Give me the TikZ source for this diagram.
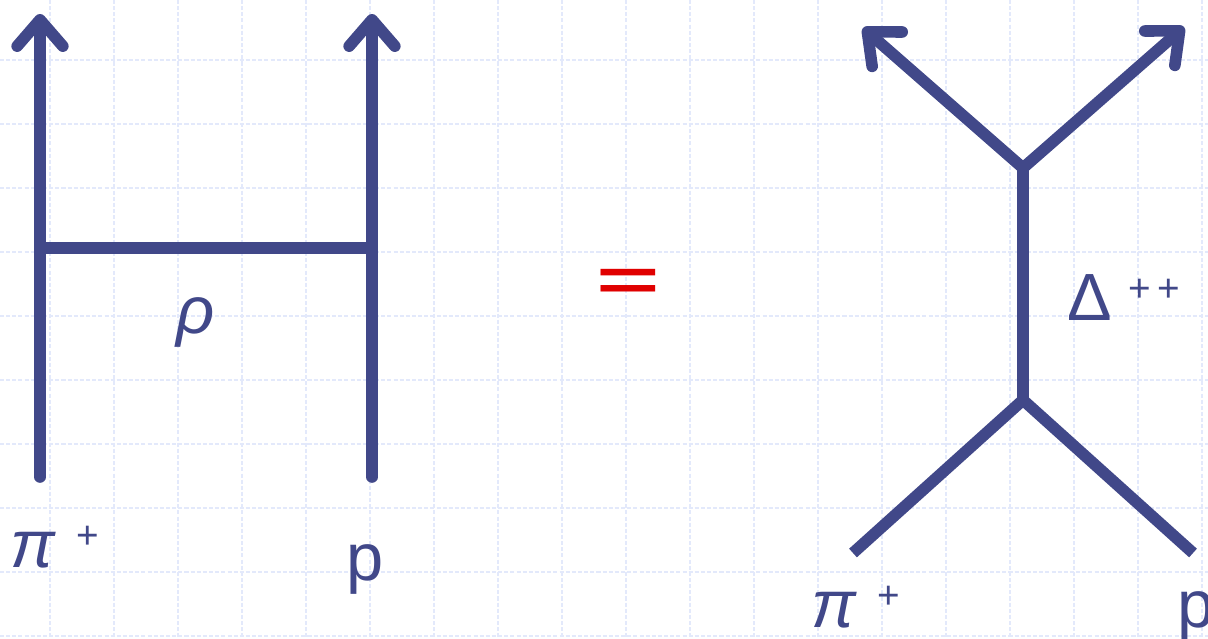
\documentclass[tikz,border=0pt]{standalone}
\usepackage{fontspec}
\setmainfont{Liberation Sans}
\usetikzlibrary{arrows.meta}
\definecolor{lineblue}{HTML}{414889}
\definecolor{gridblue}{HTML}{E3E9FB}
\definecolor{eqred}{HTML}{E00000}
\newcommand{\chg}[1]{\raisebox{0.28em}{\fontsize{22}{22}\selectfont #1}}
\begin{document}
\begin{tikzpicture}[x=0.02cm, y=-0.02cm,
  gridline/.style={gridblue, line width=0.85pt, dash pattern=on 2.3pt off 1.2pt},
  prop/.style={lineblue, line width=6.6pt},
  arr/.style={prop, -{Straight Barb[length=15pt, width=26pt, round]}},
  lbl/.style={lineblue, inner sep=0pt, anchor=base west, font=\fontsize{38}{40}\selectfont}
]
\useasboundingbox (0,0) rectangle (1208,639);
\fill[white] (0,0) rectangle (1208,639);
% background grid
\foreach \gx in {0,...,18} \draw[gridline] (50+64*\gx,0) -- (50+64*\gx,639);
\foreach \gy in {0,...,9} \draw[gridline] (0,60+64*\gy) -- (1208,60+64*\gy);

% t-channel: rho exchange
\coordinate (piin) at (40,477);
\coordinate (piout) at (40,14);
\coordinate (pin) at (372,477);
\coordinate (pout) at (372,14);
\coordinate (rhoL) at (40,248);
\coordinate (rhoR) at (372,248);
\draw[arr, line cap=round] (piin) -- (piout);
\draw[arr, line cap=round] (pin) -- (pout);
\draw[prop] (rhoL) -- (rhoR);
\node[lbl] (rho) at (176,333) {\textit{ρ}};
\node[lbl] (piL) at (10,567) {\textit{π}\hspace{0.3em}\chg{+}};
\node[lbl] (pL) at (346,580) {p};

\node[eqred, inner sep=0pt, font=\fontsize{62}{62}\selectfont\bfseries] (eq) at (628,285) {\scalebox{1}[0.55]{=}};

% s-channel: Delta++ resonance
\coordinate (vtop) at (1023,168);
\coordinate (vbot) at (1023,400);
\coordinate (outL) at (863,28);
\coordinate (outR) at (1184,27);
\coordinate (inL) at (853,553);
\coordinate (inR) at (1193,553);
\draw[prop, {Straight Barb[length=15pt, width=26pt, round]}-{Straight Barb[length=15pt, width=26pt, round]}, line join=miter] (outL) -- (vtop) -- (outR);
\draw[prop, line join=miter] (inL) -- (vbot) -- (inR);
\draw[prop] (vtop) -- (vbot);
\node[lbl] (delta) at (1067,320) {Δ\hspace{0.25em}\chg{+\hspace{0.15em}+}};
\node[lbl] (piR) at (811,627) {\textit{π}\hspace{0.3em}\chg{+}};
\node[lbl] (pR) at (1177,627) {p};
\end{tikzpicture}
\end{document}
